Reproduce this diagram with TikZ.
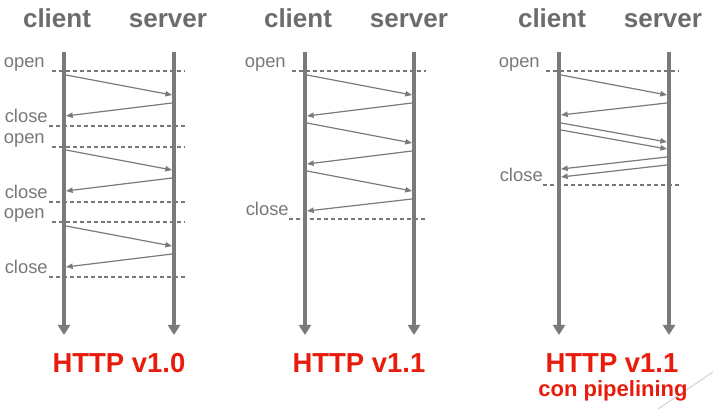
\documentclass[tikz,border=0pt]{standalone}
\usepackage{fontspec}
\setmainfont{Liberation Sans}
\usetikzlibrary{arrows.meta,positioning}

\definecolor{linegray}{RGB}{122,122,122}
\definecolor{headgray}{RGB}{108,108,108}
\definecolor{taggray}{RGB}{120,120,120}
\definecolor{titlered}{RGB}{232,28,12}

\tikzset{
  lifeline/.style={draw=linegray, line width=3pt, -{Triangle[length=7.5pt,width=9pt]}},
  msg/.style={draw=linegray, line width=0.9pt, -{Triangle[length=5pt,width=4pt]}},
  phase/.style={draw=taggray, line width=0.8pt, dash pattern=on 3pt off 2.2pt},
  head/.style={font=\bfseries\fontsize{19.5pt}{22pt}\selectfont, text=headgray, inner sep=0pt, anchor=base},
  tag/.style={font=\fontsize{13.8pt}{16pt}\selectfont, text=taggray, inner sep=0pt, anchor=base east},
  version/.style={font=\bfseries\fontsize{20.6pt}{24pt}\selectfont, text=titlered, inner sep=0pt, anchor=base},
}

\begin{document}
\begin{tikzpicture}[x=0.75pt, y=-0.75pt]

    \useasboundingbox (0,0) rectangle (714,409);

    % Page curl
    \draw[gray!35, line width=0.75pt] (713,372) -- (658,409);

    %% HTTP v1.0

    % Headers and lifelines
    \node[head] (cli0) at (57,28) {client};
    \node[head] (srv0) at (168,28) {server};
    \draw[lifeline] (64,52) coordinate (cli0top) -- (64,335) coordinate (cli0end);
    \draw[lifeline] (174,52) coordinate (srv0top) -- (174,335) coordinate (srv0end);

    % Connections
    \foreach \yo/\yc in {71/126,147/202,222/277} {
        \draw[phase] (52,\yo) -- (185,\yo);
        \draw[phase] (49,\yc) -- (185,\yc);
        \node[tag] at (45,\yo-3) {open};
        \node[tag] at (48,\yc-3) {close};
    }

    % Messages
    \foreach \ya/\yb/\yc/\yd [count=\i] in {75/95/103/116,150/170/178/191,226/246/254/267} {
        \draw[msg] (66,\ya) coordinate (v0q\i) -- (172,\yb) coordinate (v0r\i);
        \draw[msg] (172,\yc) coordinate (v0s\i) -- (66,\yd) coordinate (v0a\i);
    }

    \node[version] (v0) at (119,373) {HTTP v1.0};

    %% HTTP v1.1

    \node[head] (cli1) at (298,28) {client};
    \node[head] (srv1) at (409,28) {server};
    \draw[lifeline] (305,52) coordinate (cli1top) -- (305,335) coordinate (cli1end);
    \draw[lifeline] (414,52) coordinate (srv1top) -- (414,335) coordinate (srv1end);

    \draw[phase] (292,71) -- (426,71);
    \draw[phase] (289,219) -- (426,219);
    \node[tag] at (286,68) {open};
    \node[tag] at (289,216) {close};

    \foreach \ya/\yb/\yc/\yd [count=\i] in {75/95/103/116,123/143/151/164,171/191/199/211} {
        \draw[msg] (307,\ya) coordinate (v1q\i) -- (412,\yb) coordinate (v1r\i);
        \draw[msg] (412,\yc) coordinate (v1s\i) -- (307,\yd) coordinate (v1a\i);
    }

    \node[version] (v1) at (359,373) {HTTP v1.1};

    %% HTTP v1.1 with pipelining

    \node[head] (cli2) at (552,28) {client};
    \node[head] (srv2) at (663,28) {server};
    \draw[lifeline] (559,52) coordinate (cli2top) -- (559,335) coordinate (cli2end);
    \draw[lifeline] (669,52) coordinate (srv2top) -- (669,335) coordinate (srv2end);

    \draw[phase] (546,71) -- (679,71);
    \draw[phase] (543,185) -- (679,185);
    \node[tag] at (540,68) {open};
    \node[tag] at (543,182) {close};

    % First request, then two in a row
    \foreach \ya/\yb [count=\i] in {75/95,123/142,130/149}
        \draw[msg] (561,\ya) coordinate (v2q\i) -- (667,\yb) coordinate (v2r\i);
    \foreach \ya/\yb [count=\i] in {103/115,157/169,165/177}
        \draw[msg] (667,\ya) coordinate (v2s\i) -- (561,\yb) coordinate (v2a\i);

    \node[version] (v2) at (612,373) {HTTP v1.1};
    \node[version, font=\bfseries\fontsize{16.5pt}{19pt}\selectfont] (pipe) at (613,397) {con pipelining};

\end{tikzpicture}
\end{document}
